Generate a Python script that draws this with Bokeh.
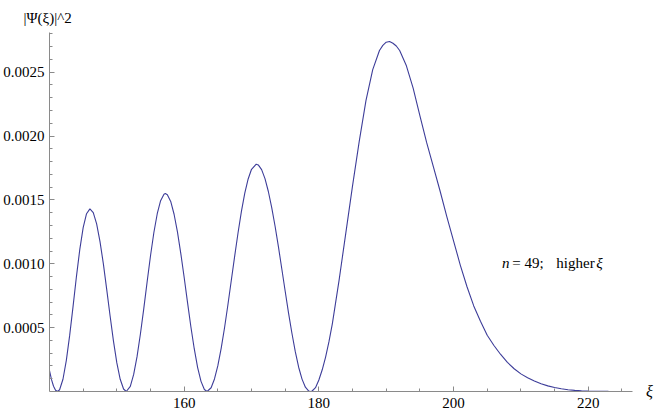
from bokeh.plotting import figure
from bokeh.models import FixedTicker, Label, Range1d, ColumnDataSource, Title
from bokeh.embed import file_html
from bokeh.resources import INLINE

# ---- data ----
xi = [140.0, 140.3, 140.6, 140.9, 141.2,
      141.5, 142.0, 142.5, 143.0, 143.5, 144.0, 144.5, 145.0, 145.5, 146.0,
      146.5, 147.0, 147.5, 148.0, 148.5, 149.0, 149.5, 150.0, 150.5, 151.0, 151.4,
      152.0, 152.5, 153.0, 153.5, 154.0, 154.5, 155.0, 155.5, 156.0, 156.5, 157.0, 157.2,
      157.5, 158.0, 158.5, 159.0, 159.5, 160.0, 160.5, 161.0, 161.5, 162.0, 162.5, 163.0, 163.4,
      164.0, 164.5, 165.0, 165.5, 166.0, 166.5, 167.0, 167.5, 168.0, 168.5, 169.0, 169.5, 170.0, 170.7,
      171.0, 171.5, 172.0, 172.5, 173.0, 173.5, 174.0, 174.5, 175.0, 175.5, 176.0, 176.5, 177.0, 177.5,
      178.0, 178.5, 178.8,
      179.0, 179.5, 180.0, 180.5, 181.0, 181.5, 182.0, 182.5, 183.0, 184.0, 185.0, 186.0, 187.0,
      188.0, 189.0, 189.5, 190.0, 190.5, 191.0, 191.5, 192.0, 193.0, 194.0, 195.0, 196.0, 197.0,
      198.0, 199.0, 200.0, 201.0, 202.0, 203.0, 204.0, 205.0, 206.0, 207.0, 208.0, 209.0, 210.0,
      211.0, 212.0, 213.0, 214.0, 215.0, 216.0, 217.0, 218.0, 219.0, 220.0, 221.0, 222.0, 223.0,
      224.0, 225.0, 226.0]
psi2 = [0.000164, 0.0000923, 0.000041, 0.0000103, 0.0,
        0.0000136, 0.0000957, 0.000244, 0.000441, 0.000667, 0.000900, 0.001113, 0.001283, 0.001392, 0.00143,
        0.00140, 0.001313, 0.001174, 0.000999, 0.000798, 0.000591, 0.000394, 0.000224, 0.0000957, 0.0000194, 0.0,
        0.0000405, 0.000134, 0.000273, 0.00045, 0.000649, 0.000859, 0.001063, 0.001245, 0.001392, 0.001494, 0.001545, 0.00155,
        0.001541, 0.001488, 0.001388, 0.00125, 0.00108, 0.000893, 0.000696, 0.000505, 0.000333, 0.000187, 0.0000794, 0.0000158, 0.0,
        0.0000295, 0.0000983, 0.000202, 0.00034, 0.000501, 0.000681, 0.000871, 0.00106, 0.001243, 0.00141, 0.001553, 0.001664, 0.00174, 0.00178,
        0.001774, 0.001737, 0.001667, 0.001566, 0.00144, 0.001294, 0.001132, 0.000959, 0.000785, 0.000614, 0.000456, 0.000312, 0.00019, 0.000097,
        0.0000336, 0.0000027, 0.0,
        0.000004, 0.00003, 0.00009, 0.00017, 0.00027, 0.00039, 0.00053, 0.0007, 0.00087, 0.00124, 0.00161, 0.00196, 0.00228,
        0.00252, 0.00267, 0.00271, 0.002735, 0.00274, 0.002727, 0.002705, 0.00267, 0.00255, 0.002375, 0.00216, 0.00195, 0.00176,
        0.00157, 0.00137, 0.00118, 0.00099, 0.00082, 0.00067, 0.00055, 0.00044, 0.00036, 0.00029, 0.000228, 0.000178, 0.000138,
        0.000108, 0.000082, 0.00006, 0.000044, 0.000031, 0.000021, 0.000014, 0.000009, 0.0000055, 0.0000033, 0.000002, 0.0000011, 0.0000006,
        0.0000003, 0.00000015, 0.0000001]

x_major = [160, 180, 200, 220]
x_major_labels = ["160", "180", "200", "220"]
x_minor = [145, 150, 155, 165, 170, 175, 185, 190, 195, 205, 210, 215, 225]
y_major = [0.0005, 0.0010, 0.0015, 0.0020, 0.0025]
y_major_labels = ["0.0005", "0.0010", "0.0015", "0.0020", "0.0025"]
y_minor = [0.0001, 0.0002, 0.0003, 0.0004, 0.0006, 0.0007, 0.0008, 0.0009,
           0.0011, 0.0012, 0.0013, 0.0014, 0.0016, 0.0017, 0.0018, 0.0019,
           0.0021, 0.0022, 0.0023, 0.0024, 0.0026, 0.0027, 0.0028]

y_title = "|Ψ(ξ)|^2"
x_title = "ξ"
annotation = [("n", "italic"), ("= 49;", "normal"), ("higher", "normal"), ("ξ", "italic")]

FONT = "Liberation Serif"
AXIS_GRAY = "#8a8a8a"

X_AXIS_END = 226.6

p = figure(width=654, height=415, output_backend="svg", toolbar_location=None,
           x_range=Range1d(140, 229.1), y_range=Range1d(0, 0.002811),
           min_border_left=48, min_border_right=5, min_border_top=30, min_border_bottom=24)
p.outline_line_color = None
p.xgrid.visible = False
p.ygrid.visible = False
p.background_fill_color = "white"
p.border_fill_color = "white"

src = ColumnDataSource(dict(x=xi, y=psi2))
p.line("x", "y", source=src, line_color="#3d3d99", line_width=1.1)

for ax in (p.xaxis[0], p.yaxis[0]):
    ax.axis_line_color = AXIS_GRAY
    ax.major_tick_line_color = AXIS_GRAY
    ax.minor_tick_line_color = AXIS_GRAY
    ax.major_tick_out = 0
    ax.major_tick_in = 5
    ax.minor_tick_out = 0
    ax.minor_tick_in = 3
    ax.major_label_text_font = FONT
    ax.major_label_text_font_size = "15px"
    ax.major_label_text_color = "black"

xa = p.xaxis[0]
xa.ticker = FixedTicker(ticks=x_major, minor_ticks=x_minor)
xa.major_label_overrides = {t: l for t, l in zip(x_major, x_major_labels)}
xa.major_label_standoff = 6
xa.bounds = (140, X_AXIS_END)
# x title at the right end of the horizontal axis
xa.axis_label = x_title
xa.axis_label_text_font = FONT
xa.axis_label_text_font_size = "16px"
xa.axis_label_text_font_style = "italic"
xa.axis_label_text_color = "black"
xa.axis_label_standoff = -28
if "axis_label_align" in xa.properties():
    xa.axis_label_align = "end"

ya = p.yaxis[0]
ya.ticker = FixedTicker(ticks=y_major, minor_ticks=y_minor)
ya.major_label_overrides = {t: l for t, l in zip(y_major, y_major_labels)}
ya.major_label_standoff = 5

# y title above the vertical axis
p.add_layout(Title(text=y_title, align="left", offset=-26, standoff=14,
                   text_font=FONT, text_font_size="15px", text_font_style="normal",
                   text_color="black"), "above")

ann_x = 207.2
ann_y = 0.00101
offsets = [0, 10.3, 54.3, 94.3]
for (txt, style), off in zip(annotation, offsets):
    p.add_layout(Label(x=ann_x, y=ann_y, x_offset=off, text=txt, text_align="left",
                       text_baseline="middle", text_font=FONT, text_font_size="15px",
                       text_font_style=style, text_color="black"))

open("out.html", "w").write(file_html(p, INLINE))
